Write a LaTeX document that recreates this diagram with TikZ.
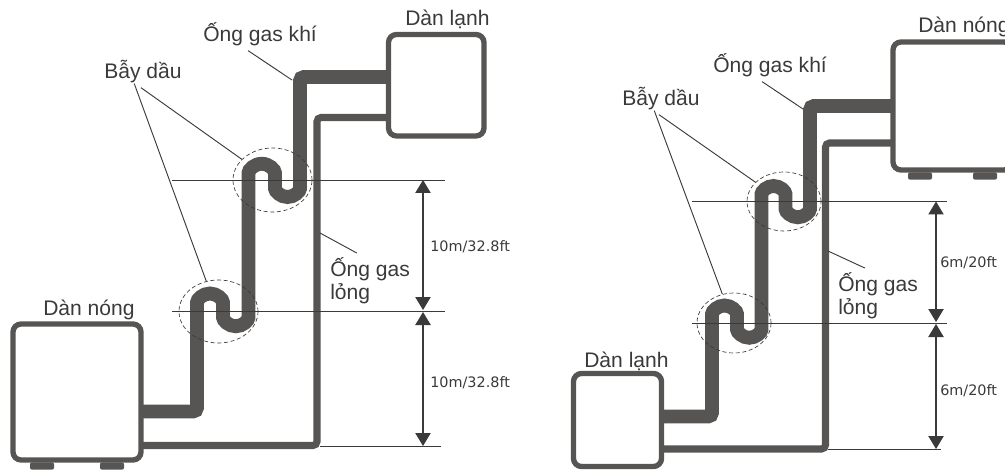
\documentclass[tikz,border=0pt]{standalone}
\usepackage{fontspec}
\setmainfont{Liberation Sans}
\newfontfamily\dimfont{DejaVu Sans}
\usetikzlibrary{arrows.meta,shapes.geometric}
\definecolor{pipegray}{HTML}{575553}
\definecolor{inkgray}{HTML}{3A3A3A}
\tikzset{
    unitbox/.style={draw=pipegray, line width=4pt, rounded corners=6pt, inner sep=0pt, outer sep=0pt},
    footpad/.style={fill=pipegray, rounded corners=1.5pt, minimum width=18pt, minimum height=5.5pt, inner sep=0pt},
    gaspipe/.style={draw=pipegray, line width=10.4pt, rounded corners=3pt},
    liquidpipe/.style={draw=pipegray, line width=5.3pt, rounded corners=3pt},
    trapring/.style={draw=inkgray, ellipse, densely dashed, line width=0.5pt, inner sep=0pt},
    levelline/.style={draw=inkgray, line width=0.7pt},
    leaderline/.style={draw=inkgray, line width=0.7pt},
    dimline/.style={draw=inkgray, line width=0.9pt, {Triangle[length=9.75pt,width=11.5pt]}-{Triangle[length=9.75pt,width=11.5pt]}},
    namelabel/.style={text=inkgray, font=\fontsize{15.8}{17.25}\selectfont, inner sep=0pt, anchor=base west},
    dimlabel/.style={text=inkgray, font=\dimfont\fontsize{10.8}{12}\selectfont, inner sep=0pt, anchor=west}
}

\begin{document}
\begin{tikzpicture}[x=0.75pt, y=-0.75pt]
    \useasboundingbox (0,0) rectangle (1005,470);
    \clip (0,0) rectangle (1005,470);

    % left system
    \node[footpad] (lFootA) at (42,466) {};
    \node[footpad] (lFootB) at (112,466) {};
    \node[unitbox, minimum width=71.6pt, minimum height=76.1pt] (lIndoor) at (436.25,85.25) {};
    \node[unitbox, minimum width=96pt, minimum height=102pt] (lOutdoor) at (77,392) {};
    \draw[gaspipe] (lIndoor.west |- 0,77) -- (300,77) -- (300,184.5)
        arc[start angle=0, end angle=180, radius=12.5] -- (275,177)
        arc[start angle=0, end angle=-180, radius=13.25] -- (248.5,313.5)
        arc[start angle=0, end angle=180, radius=12.75] -- (223,306.5)
        arc[start angle=0, end angle=-180, radius=13] -- (197,411.5) -- (lOutdoor.east |- 0,411.5);
    \draw[liquidpipe] (lIndoor.west |- 0,117.5) -- (317,117.5) -- (317,445.5) -- (lOutdoor.east |- 0,445.5);
    \node[trapring, minimum width=59.25pt, minimum height=48pt] (lTrapA) at (272.5,180) {};
    \node[trapring, minimum width=59.25pt, minimum height=47.25pt] (lTrapB) at (218.5,311.5) {};

    \coordinate (lDim) at (423,0);
    \coordinate (lLevA) at (172,180); \coordinate (lLevAend) at (445,180);
    \coordinate (lLevB) at (172,311); \coordinate (lLevBend) at (445,311);
    \coordinate (lLevC) at (320,446); \coordinate (lLevCend) at (441,446);
    \draw[levelline] (lLevA) -- (lLevAend);
    \draw[levelline] (lLevB) -- (lLevBend);
    \draw[levelline] (lLevC) -- (lLevCend);
    \draw[dimline] (lLevA -| lDim) -- ([yshift=0.75pt]lLevB -| lDim);
    \draw[dimline] ([yshift=-0.75pt]lLevB -| lDim) -- (lLevC -| lDim);

    \node[namelabel] (lNameIn) at (405,26) {Dàn lạnh};
    \node[namelabel] (lNameOut) at (43,315) {Dàn nóng};
    \node[namelabel] (lNameGas) at (203,42) {Ống gas khí};
    \node[namelabel] (lNameTrap) at (104,79) {Bẫy dầu};
    \node[namelabel, anchor=north west, align=left] (lNameLiq) at (330,257) {Ống gas\\lỏng};
    \node[dimlabel] (lDimA) at (430,247) {10m/32.8ft};
    \node[dimlabel] (lDimB) at (430,383) {10m/32.8ft};

    \coordinate (lGasTip) at (292,80);
    \coordinate (lLiqTip) at (320,233);
    \draw[leaderline] ([xshift=-1.5pt,yshift=-3pt]lNameTrap.south) -- (lTrapA.146);
    \draw[leaderline] ([xshift=-6.5pt]lNameTrap.south) -- (lTrapB.112);
    \draw[leaderline] ([xshift=-9pt,yshift=-3pt]lNameGas.south) -- (lGasTip);
    \draw[leaderline] (lLiqTip) -- ([xshift=-10pt,yshift=3pt]lNameLiq.north);

    % right system
    \node[footpad] (rFootA) at (920,176) {};
    \node[footpad] (rFootB) at (985,176) {};
    \node[unitbox, minimum width=89.25pt, minimum height=96pt] (rOutdoor) at (952.5,106) {};
    \node[unitbox, minimum width=66pt, minimum height=69.75pt] (rIndoor) at (617.5,420) {};
    \draw[gaspipe] (rOutdoor.west |- 0,106) -- (810,106) -- (810,205)
        arc[start angle=0, end angle=180, radius=12.25] -- (785.5,198)
        arc[start angle=0, end angle=-180, radius=12] -- (761.5,325.5)
        arc[start angle=0, end angle=180, radius=12.25] -- (737,318)
        arc[start angle=0, end angle=-180, radius=12.5] -- (712,416.5) -- (rIndoor.east |- 0,416.5);
    \draw[liquidpipe] (rOutdoor.west |- 0,143) -- (825.5,143) -- (825.5,449) -- (rIndoor.east |- 0,449);
    \node[trapring, minimum width=55.5pt, minimum height=44.25pt] (rTrapA) at (784,201.5) {};
    \node[trapring, minimum width=55.5pt, minimum height=45pt] (rTrapB) at (734,323) {};

    \coordinate (rDim) at (936,0);
    \coordinate (rLevA) at (692,201.5); \coordinate (rLevAend) at (947,201.5);
    \coordinate (rLevB) at (692,323); \coordinate (rLevBend) at (947,323);
    \coordinate (rLevC) at (828,449); \coordinate (rLevCend) at (941,449);
    \draw[levelline] (rLevA) -- (rLevAend);
    \draw[levelline] (rLevB) -- (rLevBend);
    \draw[levelline] (rLevC) -- (rLevCend);
    \draw[dimline] (rLevA -| rDim) -- ([yshift=0.75pt]rLevB -| rDim);
    \draw[dimline] ([yshift=-0.75pt]rLevB -| rDim) -- (rLevC -| rDim);

    \node[namelabel] (rNameOut) at (918,33) {Dàn nóng};
    \node[namelabel] (rNameIn) at (584,367) {Dàn lạnh};
    \node[namelabel] (rNameGas) at (713,73) {Ống gas khí};
    \node[namelabel] (rNameTrap) at (622,106) {Bẫy dầu};
    \node[namelabel, anchor=north west, align=left] (rNameLiq) at (838,272) {Ống gas\\lỏng};
    \node[dimlabel] (rDimA) at (940,263) {6m/20ft};
    \node[dimlabel] (rDimB) at (940,391) {6m/20ft};

    \coordinate (rGasTip) at (803,109);
    \coordinate (rLiqTip) at (828,251);
    \draw[leaderline] ([xshift=-1.5pt,yshift=-3pt]rNameTrap.south) -- (rTrapA.146);
    \draw[leaderline] ([xshift=-5pt]rNameTrap.south) -- (rTrapB.112);
    \draw[leaderline] ([xshift=-6pt,yshift=-3pt]rNameGas.south) -- (rGasTip);
    \draw[leaderline] (rLiqTip) -- ([xshift=-10pt,yshift=3pt]rNameLiq.north);
\end{tikzpicture}
\end{document}
